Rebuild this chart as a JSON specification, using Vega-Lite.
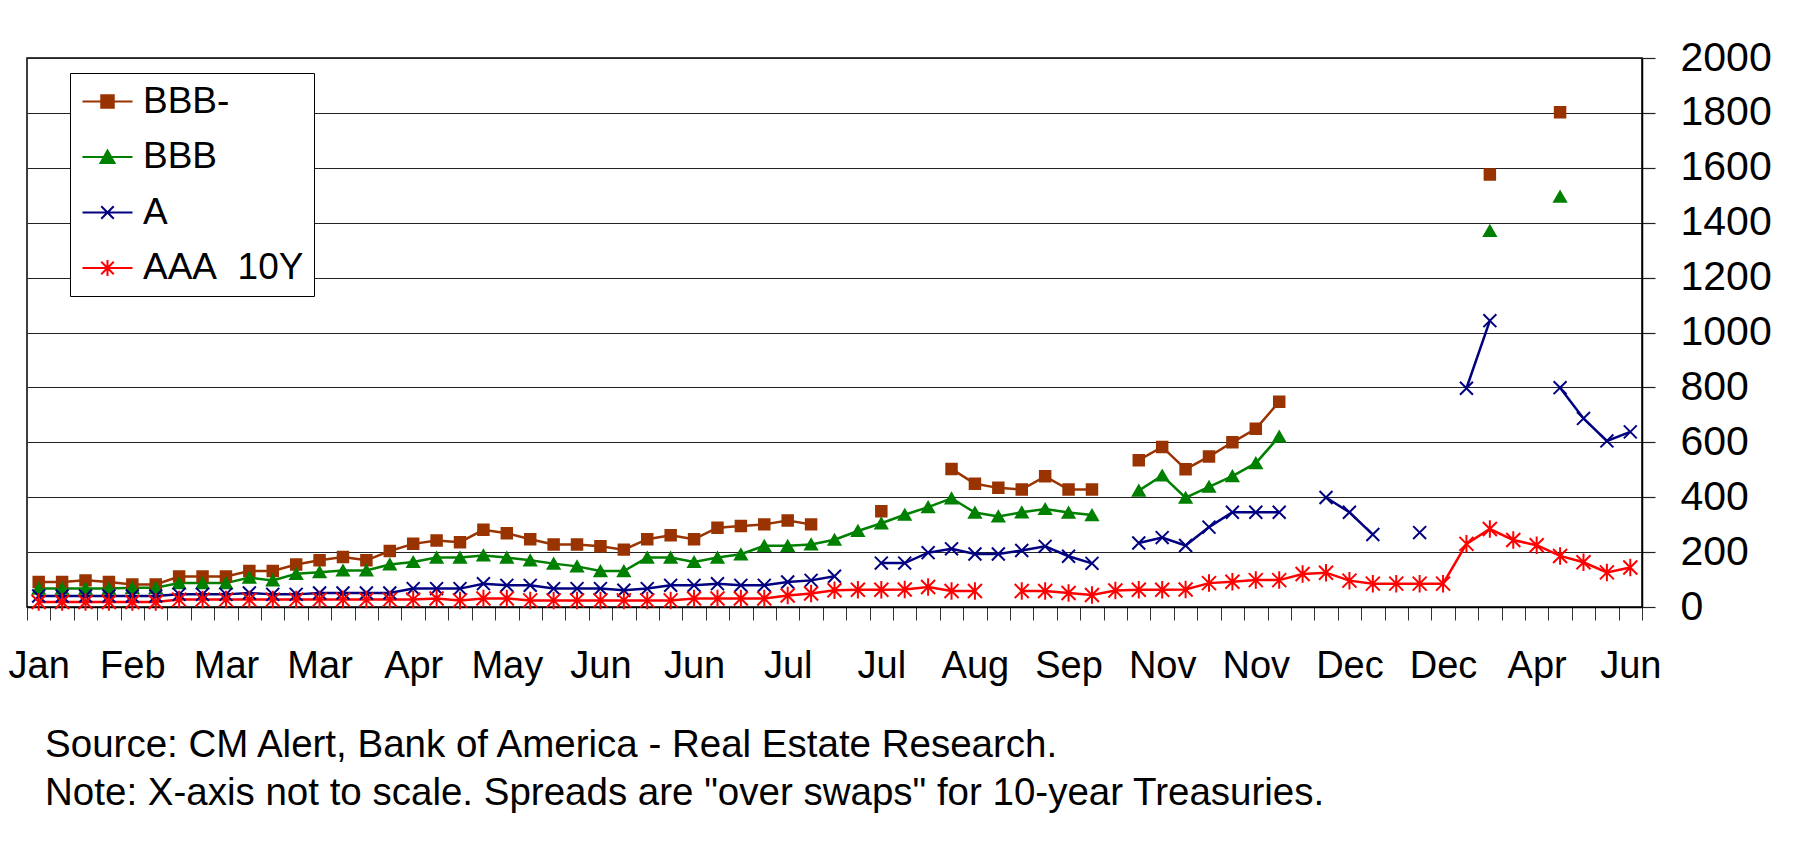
{
  "$schema": "https://vega.github.io/schema/vega-lite/v6.json",
  "width": 1615,
  "height": 549,
  "autosize": {"type": "none"},
  "padding": {"left": 27, "top": 58, "right": 158, "bottom": 244},
  "background": "white",
  "config": {
    "font": "Liberation Sans",
    "view": {"stroke": "#000", "strokeWidth": 1.5}
  },
  "data": {
    "values": [
      {"i": 0, "BBB-": 91, "BBB": 67, "A": 40, "AAA 10Y": 18},
      {"i": 1, "BBB-": 91, "BBB": 67, "A": 40, "AAA 10Y": 18},
      {"i": 2, "BBB-": 97, "BBB": 67, "A": 40, "AAA 10Y": 18},
      {"i": 3, "BBB-": 91, "BBB": 67, "A": 40, "AAA 10Y": 18},
      {"i": 4, "BBB-": 82, "BBB": 70, "A": 40, "AAA 10Y": 18},
      {"i": 5, "BBB-": 82, "BBB": 70, "A": 40, "AAA 10Y": 18},
      {"i": 6, "BBB-": 111, "BBB": 87, "A": 46, "AAA 10Y": 27},
      {"i": 7, "BBB-": 111, "BBB": 87, "A": 46, "AAA 10Y": 27},
      {"i": 8, "BBB-": 111, "BBB": 87, "A": 46, "AAA 10Y": 27},
      {"i": 9, "BBB-": 131, "BBB": 107, "A": 51, "AAA 10Y": 27},
      {"i": 10, "BBB-": 131, "BBB": 97, "A": 46, "AAA 10Y": 27},
      {"i": 11, "BBB-": 155, "BBB": 121, "A": 46, "AAA 10Y": 27},
      {"i": 12, "BBB-": 170, "BBB": 127, "A": 51, "AAA 10Y": 27},
      {"i": 13, "BBB-": 182, "BBB": 133, "A": 51, "AAA 10Y": 27},
      {"i": 14, "BBB-": 170, "BBB": 133, "A": 51, "AAA 10Y": 27},
      {"i": 15, "BBB-": 204, "BBB": 155, "A": 51, "AAA 10Y": 27},
      {"i": 16, "BBB-": 230, "BBB": 164, "A": 67, "AAA 10Y": 27},
      {"i": 17, "BBB-": 242, "BBB": 180, "A": 67, "AAA 10Y": 31},
      {"i": 18, "BBB-": 236, "BBB": 180, "A": 67, "AAA 10Y": 24},
      {"i": 19, "BBB-": 281, "BBB": 188, "A": 85, "AAA 10Y": 31},
      {"i": 20, "BBB-": 269, "BBB": 180, "A": 79, "AAA 10Y": 31},
      {"i": 21, "BBB-": 247, "BBB": 170, "A": 79, "AAA 10Y": 24},
      {"i": 22, "BBB-": 228, "BBB": 158, "A": 67, "AAA 10Y": 24},
      {"i": 23, "BBB-": 228, "BBB": 148, "A": 67, "AAA 10Y": 24},
      {"i": 24, "BBB-": 221, "BBB": 131, "A": 67, "AAA 10Y": 24},
      {"i": 25, "BBB-": 209, "BBB": 131, "A": 61, "AAA 10Y": 24},
      {"i": 26, "BBB-": 247, "BBB": 180, "A": 67, "AAA 10Y": 24},
      {"i": 27, "BBB-": 261, "BBB": 180, "A": 79, "AAA 10Y": 24},
      {"i": 28, "BBB-": 247, "BBB": 164, "A": 79, "AAA 10Y": 31},
      {"i": 29, "BBB-": 289, "BBB": 180, "A": 85, "AAA 10Y": 31},
      {"i": 30, "BBB-": 295, "BBB": 192, "A": 79, "AAA 10Y": 31},
      {"i": 31, "BBB-": 301, "BBB": 223, "A": 79, "AAA 10Y": 31},
      {"i": 32, "BBB-": 315, "BBB": 223, "A": 91, "AAA 10Y": 42},
      {"i": 33, "BBB-": 301, "BBB": 228, "A": 97, "AAA 10Y": 49},
      {"i": 34, "BBB-": null, "BBB": 245, "A": 112, "AAA 10Y": 61},
      {"i": 35, "BBB-": null, "BBB": 277, "A": null, "AAA 10Y": 63},
      {"i": 36, "BBB-": 349, "BBB": 305, "A": 160, "AAA 10Y": 63},
      {"i": 37, "BBB-": null, "BBB": 336, "A": 160, "AAA 10Y": 64},
      {"i": 38, "BBB-": null, "BBB": 364, "A": 198, "AAA 10Y": 73},
      {"i": 39, "BBB-": 503, "BBB": 396, "A": 212, "AAA 10Y": 58},
      {"i": 40, "BBB-": 449, "BBB": 344, "A": 193, "AAA 10Y": 58},
      {"i": 41, "BBB-": 434, "BBB": 330, "A": 193, "AAA 10Y": null},
      {"i": 42, "BBB-": 428, "BBB": 345, "A": 206, "AAA 10Y": 58},
      {"i": 43, "BBB-": 476, "BBB": 357, "A": 221, "AAA 10Y": 58},
      {"i": 44, "BBB-": 428, "BBB": 344, "A": 185, "AAA 10Y": 51},
      {"i": 45, "BBB-": 428, "BBB": 335, "A": 159, "AAA 10Y": 44},
      {"i": 46, "BBB-": null, "BBB": null, "A": null, "AAA 10Y": 60},
      {"i": 47, "BBB-": 535, "BBB": 424, "A": 233, "AAA 10Y": 63},
      {"i": 48, "BBB-": 583, "BBB": 479, "A": 253, "AAA 10Y": 63},
      {"i": 49, "BBB-": 502, "BBB": 398, "A": 224, "AAA 10Y": 64},
      {"i": 50, "BBB-": 548, "BBB": 438, "A": 291, "AAA 10Y": 87},
      {"i": 51, "BBB-": 600, "BBB": 477, "A": 345, "AAA 10Y": 92},
      {"i": 52, "BBB-": 649, "BBB": 524, "A": 345, "AAA 10Y": 98},
      {"i": 53, "BBB-": 748, "BBB": 621, "A": 345, "AAA 10Y": 98},
      {"i": 54, "BBB-": null, "BBB": null, "A": null, "AAA 10Y": 120},
      {"i": 55, "BBB-": null, "BBB": null, "A": 399, "AAA 10Y": 125},
      {"i": 56, "BBB-": null, "BBB": null, "A": 345, "AAA 10Y": 96},
      {"i": 57, "BBB-": null, "BBB": null, "A": 264, "AAA 10Y": 85},
      {"i": 58, "BBB-": null, "BBB": null, "A": null, "AAA 10Y": 85},
      {"i": 59, "BBB-": null, "BBB": null, "A": 271, "AAA 10Y": 85},
      {"i": 60, "BBB-": null, "BBB": null, "A": null, "AAA 10Y": 85},
      {"i": 61, "BBB-": null, "BBB": null, "A": 797, "AAA 10Y": 230},
      {"i": 62, "BBB-": 1576, "BBB": 1370, "A": 1043, "AAA 10Y": 284},
      {"i": 63, "BBB-": null, "BBB": null, "A": null, "AAA 10Y": 244},
      {"i": 64, "BBB-": null, "BBB": null, "A": null, "AAA 10Y": 225},
      {"i": 65, "BBB-": 1802, "BBB": 1495, "A": 799, "AAA 10Y": 186},
      {"i": 66, "BBB-": null, "BBB": null, "A": 687, "AAA 10Y": 163},
      {"i": 67, "BBB-": null, "BBB": null, "A": 605, "AAA 10Y": 126},
      {"i": 68, "BBB-": null, "BBB": null, "A": 638, "AAA 10Y": 144}
    ]
  },
  "transform": [{"fold": ["BBB-", "BBB", "A", "AAA 10Y"], "as": ["key", "value"]}],
  "encoding": {
    "x": {
      "field": "i",
      "type": "ordinal",
      "scale": {"type": "band", "paddingInner": 0, "paddingOuter": 0},
      "axis": {
        "orient": "bottom",
        "title": null,
        "domainColor": "#000",
        "domainWidth": 1.5,
        "tickBand": "extent",
        "tickSize": 13,
        "tickColor": "#333",
        "tickWidth": 1,
        "labelAngle": 0,
        "labelFontSize": 38,
        "labelColor": "#000",
        "labelPadding": 27,
        "labelOverlap": false,
        "labelExpr": "datum.value % 4 == 0 ? ['Jan','Feb','Mar','Mar','Apr','May','Jun','Jun','Jul','Jul','Aug','Sep','Nov','Nov','Dec','Dec','Apr','Jun'][datum.value / 4] : ''",
        "grid": false
      }
    },
    "y": {
      "field": "value",
      "type": "quantitative",
      "scale": {"domain": [0, 2000], "nice": false},
      "axis": {
        "orient": "right",
        "title": null,
        "format": "d",
        "values": [0, 200, 400, 600, 800, 1000, 1200, 1400, 1600, 1800, 2000],
        "grid": true,
        "gridColor": "#222",
        "gridWidth": 1.2,
        "domainColor": "#000",
        "domainWidth": 1.5,
        "tickSize": 13,
        "tickColor": "#222",
        "tickWidth": 1.2,
        "labelFontSize": 41,
        "labelColor": "#000",
        "labelPadding": 25
      }
    }
  },
  "layer": [
    {
      "mark": {"type": "line", "strokeWidth": 2.5, "invalid": "break-paths-filter-domains"},
      "encoding": {
        "stroke": {
          "field": "key", "type": "nominal",
          "scale": {"domain": ["BBB-", "BBB", "A", "AAA 10Y"], "range": ["#993300", "#008000", "#000080", "#ff0000"]},
          "legend": null
        }
      }
    },
    {
      "mark": {"type": "point", "filled": true, "strokeWidth": 2, "opacity": 1},
      "encoding": {
        "fill": {
          "field": "key", "type": "nominal",
          "scale": {"domain": ["BBB-", "BBB", "A", "AAA 10Y"], "range": ["#993300", "#008000", "#000080", "#ff0000"]},
          "legend": null
        },
        "stroke": {
          "field": "key", "type": "nominal",
          "scale": {"domain": ["BBB-", "BBB", "A", "AAA 10Y"], "range": ["#993300", "#008000", "#000080", "#ff0000"]},
          "legend": null
        },
        "shape": {
          "field": "key", "type": "nominal",
          "scale": {"domain": ["BBB-", "BBB", "A", "AAA 10Y"], "range": ["square", "triangle-up", "M-1,-1L1,1M-1,1L1,-1", "M-1,-1L1,1M-1,1L1,-1M0,-1.25L0,1.25"]},
          "legend": null
        },
        "size": {
          "field": "key", "type": "nominal",
          "scale": {"domain": ["BBB-", "BBB", "A", "AAA 10Y"], "range": [110, 196, 225, 225]},
          "legend": null
        }
      }
    },
    {
      "transform": [{"filter": "false"}],
      "mark": {"type": "point", "filled": true, "strokeWidth": 2, "size": 100, "opacity": 1},
      "encoding": {
        "fill": {
          "field": "key", "type": "nominal",
          "scale": {"domain": ["BBB-", "BBB", "A", "AAA 10Y"], "range": ["#993300", "#008000", "#000080", "#ff0000"]},
          "legend": {"title": null, "orient": "none", "legendX": 43, "legendY": 15, "padding": 10, "strokeColor": "#000", "fillColor": "#fff", "labelFontSize": 37, "labelColor": "#000", "symbolSize": 100, "symbolStrokeWidth": 2, "symbolOffset": 9, "labelOffset": 17, "rowPadding": 17.5, "labelLimit": 500, "labelExpr": "datum.label == 'AAA 10Y' ? 'AAA\u00a0\u00a010Y' : datum.label"}
        },
        "stroke": {
          "field": "key", "type": "nominal",
          "scale": {"domain": ["BBB-", "BBB", "A", "AAA 10Y"], "range": ["#993300", "#008000", "#000080", "#ff0000"]},
          "legend": {"title": null, "orient": "none", "legendX": 43, "legendY": 15, "padding": 10, "strokeColor": "#000", "fillColor": "#fff", "labelFontSize": 37, "labelColor": "#000", "symbolSize": 100, "symbolStrokeWidth": 2, "symbolOffset": 9, "labelOffset": 17, "rowPadding": 17.5, "labelLimit": 500, "labelExpr": "datum.label == 'AAA 10Y' ? 'AAA\u00a0\u00a010Y' : datum.label"}
        },
        "shape": {
          "field": "key", "type": "nominal",
          "scale": {"domain": ["BBB-", "BBB", "A", "AAA 10Y"], "range": ["M-5,0L5,0M-1.25,-1.25L1.25,-1.25L1.25,1.25L-1.25,1.25Z", "M-5,0L5,0M0,-1.3L1.4,1.2L-1.4,1.2Z", "M-5,0L5,0M-1.25,-1.25L1.25,1.25M-1.25,1.25L1.25,-1.25", "M-5,0L5,0M-1.25,-1.25L1.25,1.25M-1.25,1.25L1.25,-1.25M0,-1.6L0,1.6"]},
          "legend": {"title": null, "orient": "none", "legendX": 43, "legendY": 15, "padding": 10, "strokeColor": "#000", "fillColor": "#fff", "labelFontSize": 37, "labelColor": "#000", "symbolSize": 100, "symbolStrokeWidth": 2, "symbolOffset": 9, "labelOffset": 17, "rowPadding": 17.5, "labelLimit": 500, "labelExpr": "datum.label == 'AAA 10Y' ? 'AAA\u00a0\u00a010Y' : datum.label"}
        }
      }
    }
  ],
  "resolve": {"scale": {"fill": "independent", "stroke": "independent", "shape": "independent", "size": "independent"}},
  "title": {
    "text": ["Source: CM Alert, Bank of America - Real Estate Research.", "Note: X-axis not to scale. Spreads are \"over swaps\" for 10-year Treasuries."],
    "orient": "bottom",
    "anchor": "start",
    "fontSize": 38.5,
    "fontWeight": "normal",
    "color": "#000",
    "lineHeight": 48,
    "offset": 42,
    "dx": 37
  }
}
